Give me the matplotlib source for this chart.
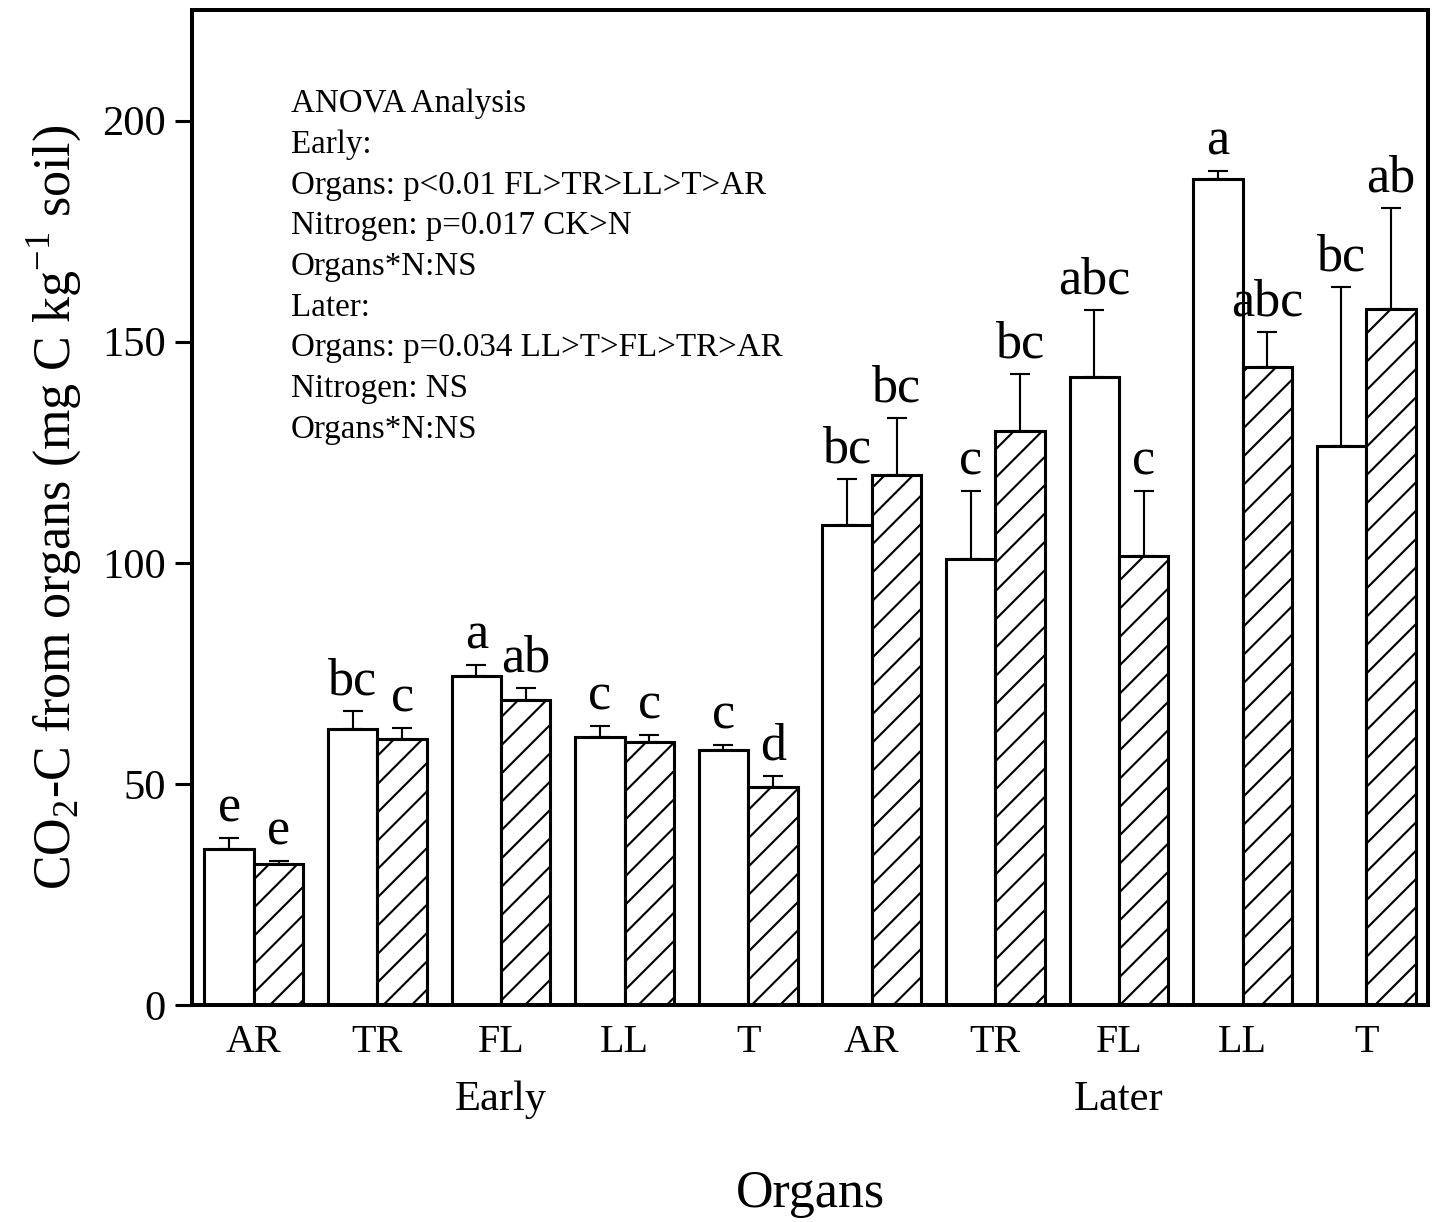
import numpy as np
import matplotlib.pyplot as plt

plt.rcParams['font.family'] = ['Liberation Serif', 'DejaVu Serif']
plt.rcParams['mathtext.fontset'] = 'custom'
plt.rcParams['mathtext.rm'] = 'Liberation Serif'
plt.rcParams['hatch.linewidth'] = 0.9

# organs for the two sampling stages
organs = ['AR', 'TR', 'FL', 'LL', 'T', 'AR', 'TR', 'FL', 'LL', 'T']
stages = ['Early', 'Later']

# CO2-C means and standard errors, CK (open) and N (hatched)
ck_mean = [35.3, 62.4, 74.4, 60.6, 57.6, 108.5, 100.8, 141.9, 186.7, 126.3]
ck_err = [2.5, 4.0, 2.5, 2.5, 1.2, 10.4, 15.4, 15.2, 1.8, 36.0]
n_mean = [31.9, 60.1, 68.9, 59.4, 49.3, 119.8, 129.9, 101.5, 144.2, 157.5]
n_err = [0.7, 2.5, 2.7, 1.6, 2.5, 12.9, 12.7, 14.7, 7.9, 22.8]

ck_letters = ['e', 'bc', 'a', 'c', 'c', 'bc', 'c', 'abc', 'a', 'bc']
n_letters = ['e', 'c', 'ab', 'c', 'd', 'bc', 'bc', 'c', 'abc', 'ab']

anova_lines = [
    'ANOVA Analysis',
    'Early:',
    'Organs: p<0.01 FL>TR>LL>T>AR',
    'Nitrogen: p=0.017 CK>N',
    'Organs*N:NS',
    'Later:',
    'Organs: p=0.034 LL>T>FL>TR>AR',
    'Nitrogen: NS',
    'Organs*N:NS',
]

dpi = 170
fig = plt.figure(figsize=(1434 / dpi, 1222 / dpi), dpi=dpi)
ax = fig.add_axes([0.1339, 0.1776, 0.9958 - 0.1339, 0.9918 - 0.1776])

x = np.arange(len(organs))
w = 0.4
ekw = dict(elinewidth=0.9, capthick=0.9, ecolor='black')

ax.bar(x - w / 2, ck_mean, w, color='white', edgecolor='black', linewidth=1.3,
       yerr=[np.zeros(len(ck_err)), ck_err], capsize=4.2, error_kw=ekw)
ax.bar(x + w / 2, n_mean, w, color='white', edgecolor='black', linewidth=1.3,
       hatch='//', yerr=[np.zeros(len(n_err)), n_err], capsize=4.2, error_kw=ekw)

# significance letters above the error bars
for i in range(len(organs)):
    ax.annotate(ck_letters[i], (x[i] - w / 2, ck_mean[i] + ck_err[i]),
                xytext=(0, 7), textcoords='offset points',
                ha='center', va='baseline', fontsize=22)
    ax.annotate(n_letters[i], (x[i] + w / 2, n_mean[i] + n_err[i]),
                xytext=(0, 7), textcoords='offset points',
                ha='center', va='baseline', fontsize=22)

for k, line in enumerate(anova_lines):
    ax.text(0.0797, 0.9055 - k * 0.0409, line, transform=ax.transAxes,
            fontsize=14, va='center', ha='left')

ax.set_xlim(-0.5, 9.5)
ax.set_ylim(0, 225)
ax.set_yticks([0, 50, 100, 150, 200])
ax.set_xticks(x)
ax.set_xticklabels(organs)
ax.tick_params(axis='y', direction='out', length=7, width=1.3, labelsize=18, pad=4)
ax.tick_params(axis='x', length=0, labelsize=17, pad=8)
for s in ax.spines.values():
    s.set_linewidth(1.7)

ax.text(2, -0.095, stages[0], transform=ax.get_xaxis_transform(),
        ha='center', va='center', fontsize=18)
ax.text(7, -0.095, stages[1], transform=ax.get_xaxis_transform(),
        ha='center', va='center', fontsize=18)
ax.text(4.5, -0.19, 'Organs', transform=ax.get_xaxis_transform(),
        ha='center', va='center', fontsize=22)

ax.set_ylabel('CO$_2$-C from organs (mg C kg$^{-1}$ soil)', fontsize=22, labelpad=8)

fig.savefig('out.png', dpi=dpi)
